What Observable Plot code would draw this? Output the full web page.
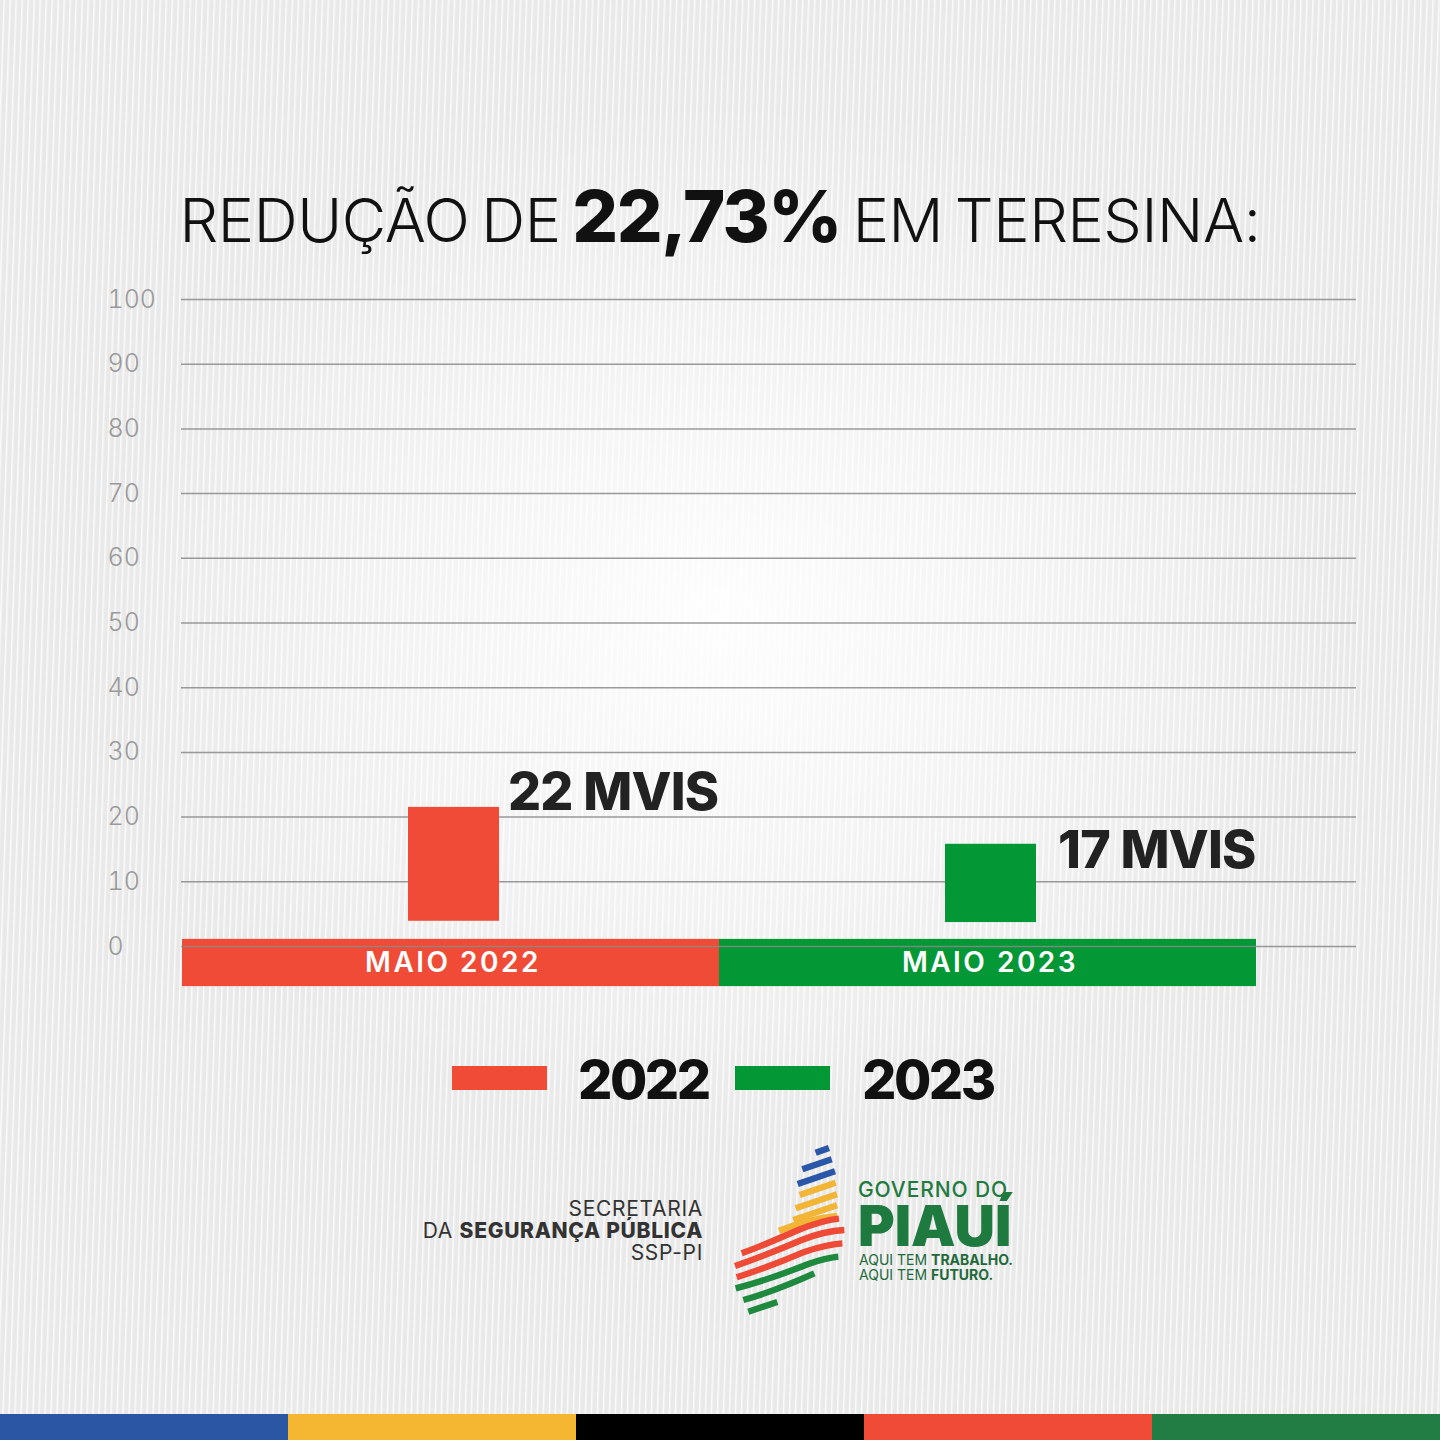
<!DOCTYPE html>
<html>
<head>
<meta charset="utf-8">
<script src="https://cdn.jsdelivr.net/npm/d3@7"></script>
<script src="https://cdn.jsdelivr.net/npm/@observablehq/plot@0.6"></script>
<style>
  html, body { margin: 0; padding: 0; }
  body {
    width: 1440px; height: 1440px; position: relative; overflow: hidden;
    font-family: Inter, "Open Sans", sans-serif;
    background:
      radial-gradient(ellipse 620px 520px at 720px 620px, rgba(255,255,255,0.95), rgba(255,255,255,0) 100%),
      repeating-linear-gradient(92deg, #e9e9e9 0px, #e9e9e9 3px, #fbfbfb 4px, #e9e9e9 6px);
  }
  .abs { position: absolute; white-space: nowrap; }
  #title { left: 0; width: 1440px; text-align: center; top: 176px; font-size: 61px; line-height: 80px; color: #111; font-weight: 300; letter-spacing: -0.4px; word-spacing: -5px; }
  #title b { font-size: 72px; line-height: 80px; font-weight: 800; letter-spacing: -1.5px; }
  #chart { position: absolute; left: 0; top: 0; }
  .sw { position: absolute; width: 95px; height: 24px; }
  .lg { font-size: 54px; font-weight: 800; color: #111; line-height: 56px; letter-spacing: -2.5px; }
  .ssp { right: 737px; text-align: right; font-size: 21px; line-height: 22px; color: #333; top: 1198px; letter-spacing: 0.7px; }
  .ssp b { font-weight: 800; }
  .gov { left: 858px; color: #1f7a3f; }
  .strip { position: absolute; top: 1414px; height: 26px; width: 288px; }
  text.band-label { letter-spacing: 2.5px; }
  text.value-label { letter-spacing: -0.8px; }
</style>
</head>
<body>
<div id="title" class="abs">REDUÇÃO DE <b>22,73%</b> EM TERESINA:</div>
<div id="chart"></div>

<div class="sw" style="left:452px; top:1066px; background:#ef4b36"></div>
<div class="abs lg" style="left:578px; top:1052px">2022</div>
<div class="sw" style="left:735px; top:1066px; background:#039835"></div>
<div class="abs lg" style="left:862px; top:1052px">2023</div>

<div class="abs ssp">SECRETARIA<br>DA <b>SEGURANÇA PÚBLICA</b><br>SSP-PI</div>

<svg class="abs" style="left:725px; top:1140px" width="130" height="180" viewBox="0 0 390 540">
  <g fill="none" stroke-width="19" stroke-linecap="butt">
    <path d="M272,38 L312,24" stroke="#2a57a8"/>
    <path d="M232,88 L320,58" stroke="#2a57a8"/>
    <path d="M218,132 L330,94" stroke="#2a57a8"/>
    <path d="M224,165 L332,128" stroke="#f3b535"/>
    <path d="M212,205 L336,163" stroke="#f3b535"/>
    <path d="M205,240 L336,196" stroke="#f3b535"/>
    <path d="M162,272 C220,250 270,235 336,228" stroke="#f3b535"/>
    <path d="M50,340 C120,315 160,295 220,270 C270,250 300,240 342,236" stroke="#ee4a36"/>
    <path d="M30,378 C110,350 160,330 230,300 C280,280 320,272 358,270" stroke="#ee4a36"/>
    <path d="M35,412 C110,388 170,365 240,335 C290,318 325,312 352,310" stroke="#ee4a36"/>
    <path d="M32,445 C110,425 180,400 250,372 C290,358 320,352 340,350" stroke="#1e8a3e"/>
    <path d="M55,480 C120,462 190,435 268,400" stroke="#1e8a3e"/>
    <path d="M70,515 L157,486" stroke="#1e8a3e"/>
  </g>
</svg>
<div class="abs gov" style="top:1181px; font-size:21px; line-height:18px; letter-spacing:0.9px; font-weight:500">GOVERNO DO</div>
<div class="abs gov" style="top:1205px; font-size:56px; line-height:42px; font-weight:900; letter-spacing:0px">PIAUÍ</div>
<div class="abs" style="left:859px; top:1252px; font-size:14px; line-height:15px; color:#1f6a3a">AQUI TEM <b>TRABALHO.</b><br>AQUI TEM <b>FUTURO.</b></div>

<div class="strip" style="left:0; background:#2b56a3"></div>
<div class="strip" style="left:288px; background:#f5b731"></div>
<div class="strip" style="left:576px; background:#000"></div>
<div class="strip" style="left:864px; background:#ef4b36"></div>
<div class="strip" style="left:1152px; background:#217d43"></div>

<script>
// Data
const categories = ["MAIO 2022", "MAIO 2023"];
const mvis = [22, 17];            // labelled values
const barTops = [21.5, 15.8];     // bar tops as drawn in the picture (axis units)
const barBase = [3.9, 3.7];       // bars float above the axis in the picture
const seriesColors = ["#ef4b36", "#039835"];
const yTicks = [0, 10, 20, 30, 40, 50, 60, 70, 80, 90, 100];

const rows = categories.map((c, i) => ({cat: c, value: mvis[i], top: barTops[i], base: barBase[i], label: `${mvis[i]} MVIS`}));
const valueLabels = rows.map(d => d.label);

const chart = Plot.plot({
  width: 1440,
  height: 1000,
  marginLeft: 181,
  marginRight: 84,
  marginTop: 299,
  marginBottom: 54,
  style: {background: "transparent", fontFamily: "Inter, 'Open Sans', sans-serif"},
  x: {domain: categories, range: [181, 1256], padding: 0, axis: null},
  y: {domain: [0, 100], axis: null},
  color: {domain: categories, range: seriesColors},
  marks: [
    // category band along the base
    Plot.barY(rows, {x: "cat", y1: () => -6.2, y2: () => 1.1, fill: "cat"}),
    Plot.ruleY(yTicks, {stroke: "#8a8a8a", strokeWidth: 1.5, strokeOpacity: 0.85}),
    Plot.axisY(yTicks, {anchor: "left", tickSize: 0, tickPadding: 0, textAnchor: "start", dx: -74, fontSize: 25, fontWeight: 300, color: "#9a9a9a"}),
    Plot.barY(rows, {x: "cat", y1: "base", y2: "top", fill: "cat", insetLeft: 226, insetRight: 220}),
    Plot.text(rows, {x: "cat", y: () => -2.6, text: "cat", fill: "white", fontSize: 28, fontWeight: 600, dx: 2}),
    Plot.text(rows.slice(0, 1), {x: "cat", y: "top", text: "label", textAnchor: "start", lineAnchor: "bottom", dx: 57, dy: 3, fontSize: 52, fontWeight: 800, fill: "#222"}),
    Plot.text(rows.slice(1), {x: "cat", y: "top", text: "label", textAnchor: "start", lineAnchor: "bottom", dx: 70, dy: 24, fontSize: 52, fontWeight: 800, fill: "#222"})
  ]
});
d3.select(chart).selectAll("text")
  .each(function() {
    const t = this.textContent;
    if (categories.includes(t)) this.setAttribute("class", "band-label");
    else if (valueLabels.includes(t)) this.setAttribute("class", "value-label");
  });
document.getElementById("chart").appendChild(chart);
</script>
</body>
</html>
